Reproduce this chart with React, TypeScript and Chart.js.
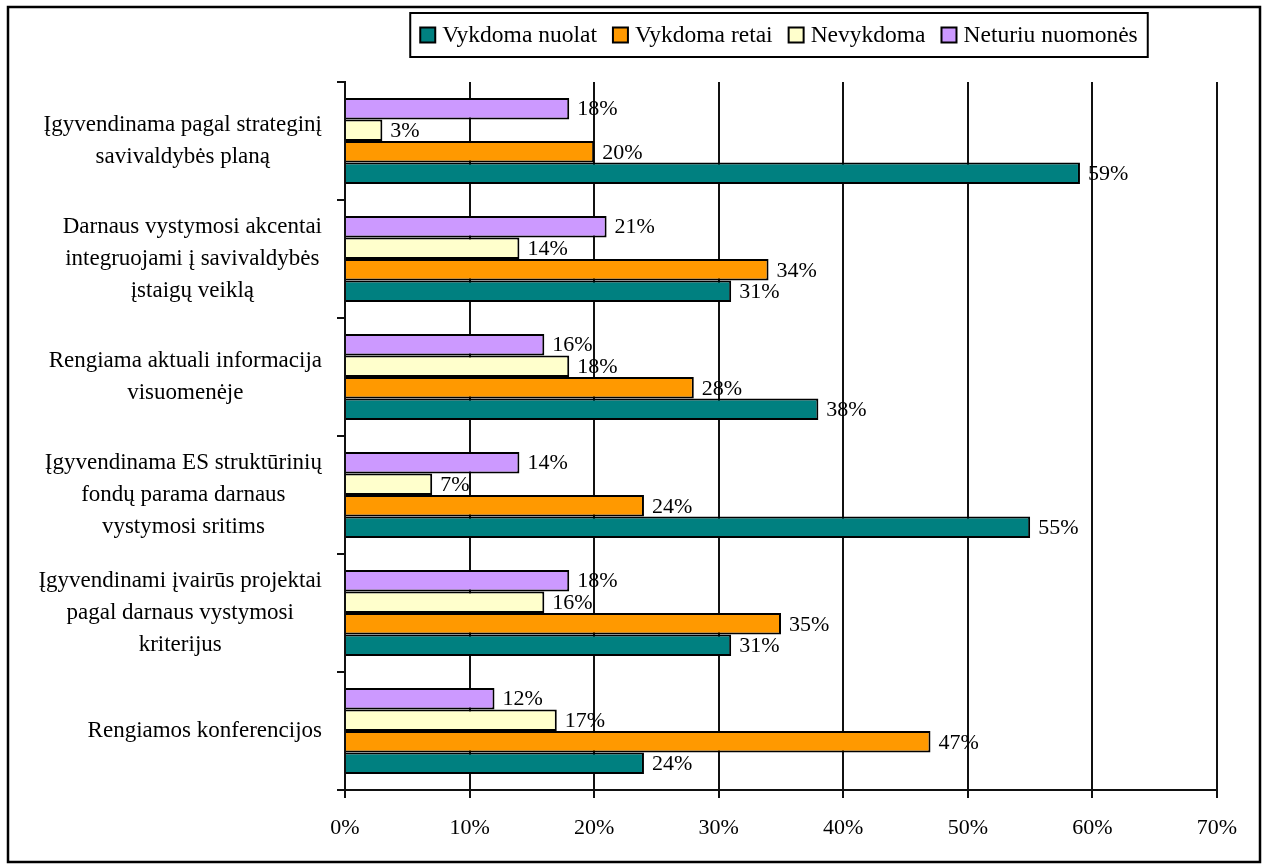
import React, { useEffect, useRef } from "react";
import { Chart, registerables } from "chart.js";

Chart.register(...registerables);

const categories: string[][] = [
  ["Įgyvendinama pagal strateginį", "savivaldybės planą"],
  ["Darnaus vystymosi akcentai", "integruojami į savivaldybės", "įstaigų veiklą"],
  ["Rengiama aktuali informacija", "visuomenėje"],
  ["Įgyvendinama ES struktūrinių", "fondų parama darnaus", "vystymosi sritims"],
  ["Įgyvendinami įvairūs projektai", "pagal darnaus vystymosi", "kriterijus"],
  ["Rengiamos konferencijos"],
];

const seriesNames = ["Vykdoma nuolat", "Vykdoma retai", "Nevykdoma", "Neturiu nuomonės"];
const seriesColors = ["#008080", "#FF9900", "#FFFFCC", "#CC99FF"];

const vykdomaNuolat = [59, 31, 38, 55, 31, 24];
const vykdomaRetai = [20, 34, 28, 24, 35, 47];
const nevykdoma = [3, 14, 18, 7, 16, 17];
const neturiuNuomones = [18, 21, 16, 14, 18, 12];

const xTicks = [0, 10, 20, 30, 40, 50, 60, 70];

const FONT = "'Liberation Serif', 'Times New Roman', serif";

const framePlugin = {
  id: "frameAndLabels",
  afterDraw(chart: any) {
    const ctx = chart.ctx;
    const area = chart.chartArea;
    ctx.save();
    // outer frame
    ctx.strokeStyle = "#000";
    ctx.lineWidth = 2.5;
    ctx.strokeRect(8, 7, 1252, 855);

    // category labels
    const yScale = chart.scales.y;
    ctx.font = `23px ${FONT}`;
    ctx.fillStyle = "#000";
    ctx.textAlign = "center";
    ctx.textBaseline = "middle";
    const lh = 32;
    categories.forEach((lines, i) => {
      const y = yScale.getPixelForValue(i);
      const widest = Math.max(...lines.map((l) => ctx.measureText(l).width));
      const cx = area.left - 23 - widest / 2;
      const startY = y - ((lines.length - 1) * lh) / 2;
      lines.forEach((l, j) => ctx.fillText(l, cx, startY + j * lh));
    });

    // legend (reverse dataset order)
    const ds = chart.data.datasets.slice().reverse();
    ctx.font = `23.5px ${FONT}`;
    const sq = 15, gapText = 7, gapItem = 16, pad = 10;
    const widths = ds.map((d: any) => ctx.measureText(d.label).width);
    let total = pad * 2;
    widths.forEach((w: number, i: number) => {
      total += sq + gapText + w + (i < widths.length - 1 ? gapItem : 0);
    });
    const cxL = 779;
    const left = cxL - total / 2;
    const top = 13, h = 44;
    ctx.lineWidth = 2;
    ctx.strokeStyle = "#000";
    ctx.fillStyle = "#fff";
    ctx.fillRect(left, top, total, h);
    ctx.strokeRect(left, top, total, h);
    let x = left + pad;
    const cy = top + h / 2;
    ds.forEach((d: any, i: number) => {
      ctx.fillStyle = d.backgroundColor;
      ctx.fillRect(x, cy - sq / 2, sq, sq);
      ctx.lineWidth = 2;
      ctx.strokeStyle = "#000";
      ctx.strokeRect(x, cy - sq / 2, sq, sq);
      x += sq + gapText;
      ctx.fillStyle = "#000";
      ctx.textAlign = "left";
      ctx.textBaseline = "middle";
      ctx.fillText(d.label, x, cy + 1);
      x += widths[i] + gapItem;
    });
    ctx.restore();
  },
  afterDatasetsDraw(chart: any) {
    const ctx = chart.ctx;
    ctx.save();
    ctx.font = `22px ${FONT}`;
    ctx.fillStyle = "#000";
    ctx.textAlign = "left";
    ctx.textBaseline = "middle";
    chart.data.datasets.forEach((d: any, di: number) => {
      const meta = chart.getDatasetMeta(di);
      meta.data.forEach((bar: any, i: number) => {
        ctx.fillText(`${d.data[i]}%`, bar.x + 8, bar.y + 1);
      });
    });
    ctx.restore();
  },
};

export default function App() {
  const ref = useRef<HTMLCanvasElement>(null);
  useEffect(() => {
    if (!ref.current) return;
    const chart = new Chart(ref.current, {
      type: "bar",
      data: {
        labels: categories.map((c) => c.join(" ")),
        datasets: [
          { label: seriesNames[3], data: neturiuNuomones, backgroundColor: seriesColors[3] },
          { label: seriesNames[2], data: nevykdoma, backgroundColor: seriesColors[2] },
          { label: seriesNames[1], data: vykdomaRetai, backgroundColor: seriesColors[1] },
          { label: seriesNames[0], data: vykdomaNuolat, backgroundColor: seriesColors[0] },
        ].map((d) => ({
          ...d,
          borderColor: "#000",
          borderWidth: 2,
          categoryPercentage: 0.73,
          barPercentage: 1,
        })),
      },
      options: {
        indexAxis: "y",
        animation: false,
        responsive: false,
        maintainAspectRatio: false,
        layout: { padding: { top: 82, right: 50, bottom: 0, left: 0 } },
        plugins: {
          legend: { display: false },
          tooltip: { enabled: false },
        },
        scales: {
          x: {
            type: "linear",
            min: xTicks[0],
            max: xTicks[xTicks.length - 1],
            afterBuildTicks: (s: any) => {
              s.ticks = xTicks.map((v) => ({ value: v }));
            },
            ticks: {
              callback: (v: any) => `${v}%`,
              font: { family: FONT, size: 22 },
              color: "#000",
              padding: 17,
              maxRotation: 0,
            },
            grid: {
              color: "#111",
              lineWidth: 2,
              tickLength: 8,
              drawTicks: true,
            },
            border: { display: true, color: "#111", width: 2 },
            afterFit: (s: any) => {
              s.height = 75;
            },
          },
          y: {
            type: "category",
            offset: true,
            ticks: { display: false },
            grid: {
              offset: true,
              drawOnChartArea: false,
              drawTicks: true,
              tickLength: 8,
              color: "#111",
              lineWidth: 2,
            },
            border: { display: true, color: "#111", width: 2 },
            afterFit: (s: any) => {
              s.width = 345;
            },
          },
        },
      },
      plugins: [framePlugin],
    });
    return () => chart.destroy();
  }, []);
  return (
    <div style={{ position: "fixed", left: 0, top: 0, width: 1267, height: 865, background: "#fff" }}>
      <canvas ref={ref} width={1267} height={865} style={{ width: 1267, height: 865 }} />
    </div>
  );
}
